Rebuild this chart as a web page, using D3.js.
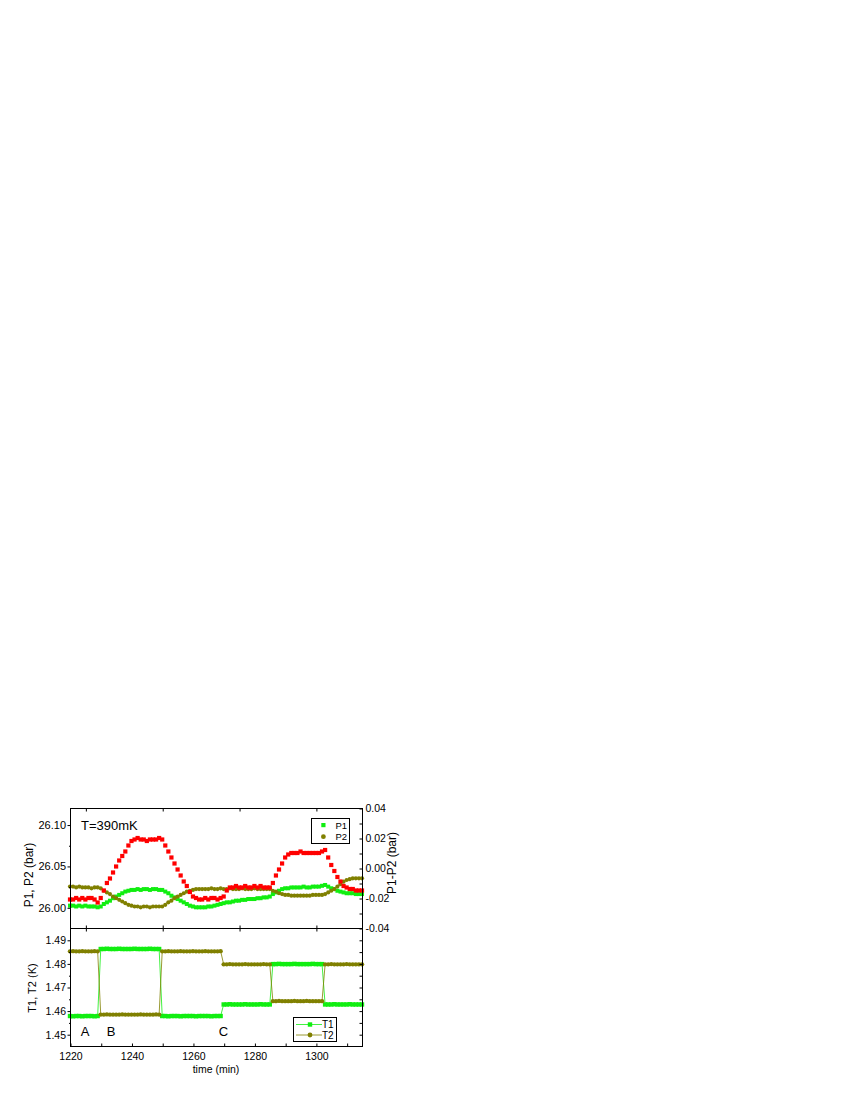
<!DOCTYPE html>
<html>
<head>
<meta charset="utf-8">
<script src="https://cdn.jsdelivr.net/npm/d3@7"></script>
<style>
  body { margin: 0; background: #fff; }
  svg { display: block; }
  text { font-family: "Liberation Sans", Arial, sans-serif; fill: #000; }
</style>
</head>
<body>
<div id="chart"></div>
<script>
// time axis (min), one reading per minute
const time = d3.range(1220, 1316);

// P1, P2 (bar)
const p1 = [
  26.002, 26.002, 26.001, 26.002, 26.001, 26.002, 26.001, 26.001, 26.001, 26.000,
  26.001, 26.004, 26.006, 26.008, 26.011, 26.013, 26.015, 26.017, 26.019, 26.020,
  26.021, 26.021, 26.022, 26.021, 26.022, 26.022, 26.021, 26.022, 26.022, 26.021,
  26.021, 26.019, 26.017, 26.014, 26.012, 26.010, 26.008, 26.006, 26.004, 26.002,
  26.001, 26.000, 26.000, 26.000, 26.000, 26.001, 26.001, 26.002, 26.003, 26.004,
  26.005, 26.006, 26.006, 26.007, 26.008, 26.008, 26.009, 26.009, 26.010, 26.010,
  26.010, 26.011, 26.011, 26.012, 26.012, 26.013, 26.016, 26.018, 26.020, 26.022,
  26.023, 26.023, 26.024, 26.024, 26.024, 26.024, 26.025, 26.024, 26.024, 26.025,
  26.025, 26.025, 26.026, 26.027, 26.025, 26.023, 26.022, 26.020, 26.019, 26.018,
  26.017, 26.017, 26.017, 26.016, 26.016, 26.016
];
const p2 = [
  26.025, 26.025, 26.024, 26.025, 26.024, 26.024, 26.024, 26.023, 26.024, 26.024,
  26.023, 26.020, 26.018, 26.016, 26.013, 26.011, 26.009, 26.007, 26.005, 26.003,
  26.002, 26.001, 26.001, 26.000, 26.001, 26.001, 26.000, 26.001, 26.001, 26.001,
  26.001, 26.003, 26.006, 26.008, 26.011, 26.013, 26.015, 26.017, 26.019, 26.020,
  26.021, 26.022, 26.022, 26.022, 26.022, 26.022, 26.023, 26.022, 26.022, 26.023,
  26.022, 26.022, 26.023, 26.022, 26.022, 26.022, 26.023, 26.022, 26.022, 26.022,
  26.023, 26.022, 26.022, 26.022, 26.022, 26.022, 26.020, 26.019, 26.017, 26.016,
  26.015, 26.015, 26.014, 26.014, 26.014, 26.014, 26.014, 26.014, 26.014, 26.015,
  26.015, 26.015, 26.015, 26.016, 26.018, 26.020, 26.022, 26.025, 26.028, 26.031,
  26.033, 26.034, 26.035, 26.035, 26.035, 26.035
];
// P1-P2 (bar), right axis
const dp = [
  -0.021, -0.021, -0.020, -0.021, -0.020, -0.021, -0.020, -0.020, -0.021, -0.023,
  -0.020, -0.015, -0.010, -0.007, -0.003, 0.001, 0.005, 0.008, 0.011, 0.015,
  0.018, 0.019, 0.020, 0.019, 0.019, 0.018, 0.019, 0.019, 0.019, 0.020,
  0.019, 0.015, 0.011, 0.007, 0.003, -0.001, -0.005, -0.009, -0.012, -0.016,
  -0.019, -0.020, -0.021, -0.021, -0.020, -0.021, -0.020, -0.020, -0.021, -0.020,
  -0.019, -0.015, -0.013, -0.013, -0.012, -0.013, -0.013, -0.012, -0.013, -0.013,
  -0.012, -0.013, -0.012, -0.013, -0.013, -0.013, -0.010, -0.005, -0.001, 0.003,
  0.007, 0.009, 0.010, 0.010, 0.010, 0.011, 0.010, 0.010, 0.010, 0.010,
  0.010, 0.010, 0.011, 0.012, 0.007, 0.002, -0.002, -0.006, -0.009, -0.012,
  -0.013, -0.014, -0.014, -0.015, -0.015, -0.015
];
// T1, T2 (K)
const t1 = [
  1.4577, 1.4576, 1.4577, 1.4577, 1.4576, 1.4577, 1.4577, 1.4577, 1.4576, 1.4577,
  1.4861, 1.4861, 1.4862, 1.4861, 1.4861, 1.4861, 1.4862, 1.4861, 1.4861, 1.4861,
  1.4861, 1.4862, 1.4861, 1.4861, 1.4861, 1.4861, 1.4862, 1.4861, 1.4861, 1.4861,
  1.4577, 1.4577, 1.4576, 1.4577, 1.4577, 1.4577, 1.4576, 1.4577, 1.4577, 1.4577,
  1.4577, 1.4576, 1.4577, 1.4577, 1.4577, 1.4577, 1.4576, 1.4577, 1.4577, 1.4577,
  1.4626, 1.4626, 1.4627, 1.4626, 1.4626, 1.4626, 1.4626, 1.4627, 1.4626, 1.4626,
  1.4626, 1.4626, 1.4627, 1.4626, 1.4626, 1.4626,
  1.4797, 1.4797, 1.4798, 1.4797, 1.4797, 1.4797, 1.4797, 1.4798, 1.4797, 1.4797,
  1.4797, 1.4797, 1.4797, 1.4798, 1.4797, 1.4797, 1.4797,
  1.4626, 1.4626, 1.4626, 1.4627, 1.4626, 1.4626, 1.4626, 1.4626, 1.4627, 1.4626,
  1.4626, 1.4626, 1.4626
];
const t2 = [
  1.4851, 1.4852, 1.4851, 1.4851, 1.4852, 1.4851, 1.4851, 1.4851, 1.4852, 1.4851,
  1.4583, 1.4583, 1.4584, 1.4583, 1.4583, 1.4583, 1.4583, 1.4584, 1.4583, 1.4583,
  1.4583, 1.4583, 1.4583, 1.4584, 1.4583, 1.4583, 1.4583, 1.4583, 1.4584, 1.4583,
  1.4851, 1.4851, 1.4852, 1.4851, 1.4851, 1.4851, 1.4852, 1.4851, 1.4851, 1.4851,
  1.4852, 1.4851, 1.4851, 1.4851, 1.4852, 1.4851, 1.4851, 1.4851, 1.4851, 1.4852,
  1.4796, 1.4796, 1.4797, 1.4796, 1.4796, 1.4796, 1.4796, 1.4797, 1.4796, 1.4796,
  1.4796, 1.4796, 1.4796, 1.4797, 1.4796, 1.4796,
  1.4640, 1.4640, 1.4641, 1.4640, 1.4640, 1.4640, 1.4640, 1.4641, 1.4640, 1.4640,
  1.4640, 1.4641, 1.4640, 1.4640, 1.4640, 1.4640, 1.4640,
  1.4796, 1.4796, 1.4797, 1.4796, 1.4796, 1.4796, 1.4796, 1.4797, 1.4796, 1.4796,
  1.4796, 1.4796, 1.4796
];

const xTicksTop = [1225, 1250, 1275, 1300];
const xTicksBottom = d3.range(1220, 1316, 10);
const pTicks = [26.00, 26.05, 26.10];
const pMinor = [26.025, 26.075];
const dTicks = [-0.04, -0.03, -0.02, -0.01, 0, 0.01, 0.02, 0.03, 0.04];
const tTicks = [1.45, 1.46, 1.47, 1.48, 1.49];
const tMinor = [1.455, 1.465, 1.475, 1.485];

const GREEN = '#11ee11';
const OLIVE = '#808000';
const RED = '#ff0000';

const plotL = 70, plotR = 362, plotT = 808, plotM = 928, plotB = 1046;

const svg = d3.select('#chart').append('svg')
  .attr('width', 850)
  .attr('height', 1100);

const x = d3.scaleLinear().domain([1220, 1315]).range([plotL, plotR]);
const yP = d3.scaleLinear().domain([25.975, 26.12]).range([plotM, plotT]);
const yD = d3.scaleLinear().domain([-0.04, 0.04]).range([plotM, plotT]);
const yT = d3.scaleLinear().domain([1.445, 1.495]).range([plotB, plotM]);

function markers(scale, ys, color, size, shape) {
  const pts = time.map((t, i) => [t, ys[i]]);
  const g = svg.append('g');
  if (shape === 'square') {
    g.selectAll('rect').data(pts).join('rect')
      .attr('x', d => x(d[0]) - size / 2)
      .attr('y', d => scale(d[1]) - size / 2)
      .attr('width', size)
      .attr('height', size)
      .attr('fill', color);
  } else {
    g.selectAll('circle').data(pts).join('circle')
      .attr('cx', d => x(d[0]))
      .attr('cy', d => scale(d[1]))
      .attr('r', size / 2)
      .attr('fill', color);
  }
}

function connect(scale, ys, color) {
  svg.append('path')
    .datum(time.map((t, i) => [t, ys[i]]))
    .attr('fill', 'none')
    .attr('stroke', color)
    .attr('stroke-width', 0.8)
    .attr('d', d3.line().x(d => x(d[0])).y(d => scale(d[1])));
}

// upper panel
markers(yP, p1, GREEN, 4, 'square');
markers(yP, p2, OLIVE, 4.2, 'circle');
markers(yD, dp, RED, 4.2, 'square');

// lower panel
connect(yT, t1, GREEN);
connect(yT, t2, OLIVE);
markers(yT, t1, GREEN, 4.4, 'square');
markers(yT, t2, OLIVE, 4.4, 'circle');

// frames
[[plotT, plotM], [plotM, plotB]].forEach(([a, b]) => {
  svg.append('rect')
    .attr('x', plotL + 0.5).attr('y', a + 0.5)
    .attr('width', plotR - plotL).attr('height', b - a)
    .attr('fill', 'none').attr('stroke', '#000').attr('stroke-width', 1);
});

function axis(gen, tx, ty, fontSize) {
  const g = svg.append('g')
    .attr('transform', `translate(${tx},${ty})`)
    .call(gen);
  g.select('.domain').remove();
  g.selectAll('line').attr('stroke', '#000');
  g.selectAll('text').attr('font-size', fontSize).attr('font-family', '"Liberation Sans", Arial, sans-serif');
  return g;
}

// horizontal axes
axis(d3.axisTop(x).tickValues(xTicksTop).tickSize(-3).tickFormat(''), 0.5, plotT + 0.5);
axis(d3.axisBottom(x).tickValues(xTicksTop).tickSize(-3).tickFormat(''), 0.5, plotM + 0.5);
axis(d3.axisTop(x).tickValues(xTicksTop).tickSize(-3).tickFormat(''), 0.5, plotM + 0.5);
axis(d3.axisBottom(x).tickValues(xTicksBottom).tickSize(-3).tickPadding(6)
  .tickFormat(d => d % 20 === 0 ? d : ''), 0.5, plotB + 0.5, 10.5);

// upper vertical axes
axis(d3.axisLeft(yP).tickValues(pTicks).tickSize(3).tickPadding(1.5)
  .tickFormat(d => d.toFixed(2)), plotL + 0.5, 0.5, 11);
axis(d3.axisLeft(yP).tickValues(pMinor).tickSize(1.5).tickFormat(''), plotL + 0.5, 0.5);
axis(d3.axisRight(yD).tickValues(dTicks).tickSize(-3).tickPadding(3)
  .tickFormat((d, i) => i % 2 === 0 ? d.toFixed(2) : ''), plotR + 0.5, 0.5, 10.5);

// lower vertical axes
axis(d3.axisLeft(yT).tickValues(tTicks).tickSize(3).tickPadding(1.5)
  .tickFormat(d => d.toFixed(2)), plotL + 0.5, 0.5, 10.5);
axis(d3.axisLeft(yT).tickValues(tMinor).tickSize(1.5).tickFormat(''), plotL + 0.5, 0.5);
axis(d3.axisRight(yT).tickValues(tTicks.concat(tMinor)).tickSize(-3).tickFormat(''), plotR + 0.5, 0.5);

// axis titles
svg.append('text')
  .attr('transform', 'translate(33,875) rotate(-90)')
  .attr('text-anchor', 'middle').attr('font-size', 12)
  .text('P1, P2 (bar)');
svg.append('text')
  .attr('transform', 'translate(396,863) rotate(-90)')
  .attr('text-anchor', 'middle').attr('font-size', 12)
  .text('P1-P2 (bar)');
svg.append('text')
  .attr('transform', 'translate(36,988) rotate(-90)')
  .attr('text-anchor', 'middle').attr('font-size', 11)
  .text('T1, T2 (K)');
svg.append('text')
  .attr('x', 216).attr('y', 1073)
  .attr('text-anchor', 'middle').attr('font-size', 10.5)
  .text('time (min)');

// annotations
svg.append('text').attr('x', 81).attr('y', 830).attr('font-size', 13).text('T=390mK');
[['A', 85, 1035.5], ['B', 111, 1035.5], ['C', 223.5, 1036]].forEach(([s, tx, ty]) => {
  svg.append('text').attr('x', tx).attr('y', ty)
    .attr('text-anchor', 'middle').attr('font-size', 13).text(s);
});

// legend, upper panel
const legP = svg.append('g');
legP.append('rect')
  .attr('x', 311.5).attr('y', 818.5).attr('width', 38).attr('height', 25)
  .attr('fill', '#fff').attr('stroke', '#000').attr('stroke-width', 1);
legP.append('rect').attr('x', 321.3).attr('y', 823).attr('width', 4.2).attr('height', 4.2).attr('fill', GREEN);
legP.append('circle').attr('cx', 323.4).attr('cy', 836.7).attr('r', 2.4).attr('fill', OLIVE);
legP.append('text').attr('x', 335.5).attr('y', 828.6).attr('font-size', 9.5).text('P1');
legP.append('text').attr('x', 335.5).attr('y', 840.3).attr('font-size', 9.5).text('P2');

// legend, lower panel
const legT = svg.append('g');
legT.append('rect')
  .attr('x', 293.5).attr('y', 1017.5).attr('width', 43).attr('height', 24)
  .attr('fill', '#fff').attr('stroke', '#000').attr('stroke-width', 1);
[[GREEN, 1024.5, 'T1', 'square'], [OLIVE, 1035, 'T2', 'circle']].forEach(([c, ly, s, shape]) => {
  legT.append('line').attr('x1', 296).attr('x2', 322).attr('y1', ly).attr('y2', ly)
    .attr('stroke', c).attr('stroke-width', 0.8);
  if (shape === 'square') {
    legT.append('rect').attr('x', 307.8).attr('y', ly - 2.2).attr('width', 4.4).attr('height', 4.4).attr('fill', c);
  } else {
    legT.append('circle').attr('cx', 310).attr('cy', ly).attr('r', 2.4).attr('fill', c);
  }
  legT.append('text').attr('x', 322).attr('y', ly + 3.8).attr('font-size', 10).text(s);
});
</script>
</body>
</html>
